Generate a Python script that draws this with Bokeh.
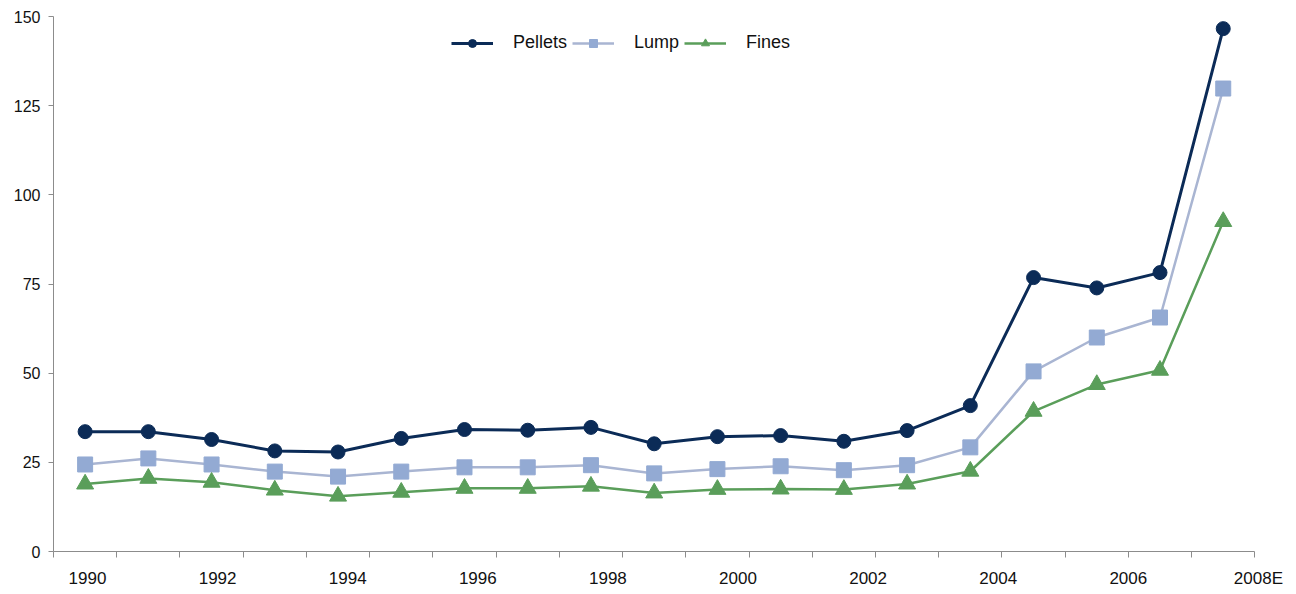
from bokeh.plotting import figure
from bokeh.models import Range1d, FixedTicker, LinearAxis, Legend, LegendItem
from bokeh.embed import file_html
from bokeh.resources import INLINE

years = ["1990", "1991", "1992", "1993", "1994", "1995", "1996", "1997", "1998", "1999",
         "2000", "2001", "2002", "2003", "2004", "2005", "2006", "2007", "2008E"]
pellets = [33.6, 33.6, 31.4, 28.2, 27.9, 31.7, 34.2, 34.0, 34.8, 30.2,
           32.2, 32.5, 30.9, 33.9, 40.9, 76.8, 73.9, 78.2, 146.6]
lump = [24.4, 26.1, 24.4, 22.4, 21.0, 22.4, 23.6, 23.6, 24.2, 21.9,
        23.1, 23.9, 22.8, 24.2, 29.2, 50.5, 60.0, 65.6, 129.8]
fines = [18.9, 20.5, 19.4, 17.2, 15.5, 16.6, 17.7, 17.7, 18.3, 16.4,
         17.4, 17.5, 17.4, 18.9, 22.5, 39.3, 46.8, 50.8, 92.5]
y_ticks = [0, 25, 50, 75, 100, 125, 150]
x_labels = ["1990", "1992", "1994", "1996", "1998", "2000", "2002", "2004", "2006", "2008E"]

FONT = "Liberation Sans"
AXIS_COL = "#8c8c8c"
C_PEL = "#0b2b57"
C_LUMP = "#93aad3"
C_LUMP_LINE = "#a9b5d2"
C_FIN = "#5a9e5a"

n = len(years)
xs = list(range(n))

p = figure(width=1296, height=594, output_backend="svg", toolbar_location=None,
           x_range=Range1d(-0.5, n - 0.3), y_range=Range1d(0, 150),
           min_border_left=53, min_border_right=29, min_border_top=16, min_border_bottom=43,
           x_axis_location=None, y_axis_location=None)
p.outline_line_color = None
p.xgrid.visible = False
p.ygrid.visible = False
p.background_fill_color = "white"
p.border_fill_color = "white"

# y axis
yax = LinearAxis(ticker=FixedTicker(ticks=y_ticks, minor_ticks=[]))
yax.axis_line_color = AXIS_COL
yax.major_tick_line_color = AXIS_COL
yax.major_tick_out = 5
yax.major_tick_in = 0
yax.minor_tick_line_color = None
yax.major_label_text_font = FONT
yax.major_label_text_font_size = "16px"
yax.major_label_text_color = "#111111"
yax.major_label_standoff = 8
p.add_layout(yax, "left")

# x axis: tick marks at category boundaries
boundaries = [i - 0.5 for i in range(n + 1)]
xax = LinearAxis(ticker=FixedTicker(ticks=[], minor_ticks=boundaries), bounds=(-0.5, n - 0.5))
xax.axis_line_color = AXIS_COL
xax.minor_tick_line_color = AXIS_COL
xax.minor_tick_out = 6
xax.minor_tick_in = 0
xax.major_tick_line_color = None
xax.major_label_text_font_size = "0px"
p.add_layout(xax, "below")

# x labels axis (labels evenly spread as in the reference)
frame_w = 1296 - 53 - 29
lab_step_px = 130.1
s = -(87 - 53) / lab_step_px
e = s + frame_w / lab_step_px
p.extra_x_ranges = {"lab": Range1d(s, e)}
lax = LinearAxis(x_range_name="lab", ticker=FixedTicker(ticks=list(range(len(x_labels))), minor_ticks=[]))
lax.major_label_overrides = {i: t for i, t in enumerate(x_labels)}
lax.axis_line_color = None
lax.major_tick_line_color = None
lax.minor_tick_line_color = None
lax.major_tick_out = 0
lax.major_label_standoff = 11
lax.major_label_text_font = FONT
lax.major_label_text_font_size = "17px"
lax.major_label_text_color = "#111111"
p.add_layout(lax, "below")

l1 = p.line(xs, pellets, line_color=C_PEL, line_width=3)
m1 = p.scatter(xs, pellets, marker="circle", size=14, fill_color=C_PEL, line_color=C_PEL)
l2 = p.line(xs, lump, line_color=C_LUMP_LINE, line_width=2.5)
m2 = p.scatter(xs, lump, marker="square", size=15, fill_color=C_LUMP, line_color=C_LUMP)
l3 = p.line(xs, fines, line_color=C_FIN, line_width=2.5)
m3 = p.scatter(xs, fines, marker="triangle", size=17, fill_color=C_FIN, line_color=C_FIN)

legend = Legend(items=[LegendItem(label="Pellets", renderers=[l1, m1]),
                       LegendItem(label="Lump", renderers=[l2, m2]),
                       LegendItem(label="Fines", renderers=[l3, m3])],
                orientation="horizontal", location=(398, 498))
legend.glyph_width = 42
legend.glyph_height = 20
legend.label_standoff = 20
legend.spacing = 5
legend.padding = 0
legend.margin = 0
legend.border_line_color = None
legend.background_fill_alpha = 0
legend.label_text_font = FONT
legend.label_text_font_size = "18px"
legend.label_text_color = "#111111"
p.add_layout(legend, "center")

open("out.html", "w").write(file_html(p, INLINE))
